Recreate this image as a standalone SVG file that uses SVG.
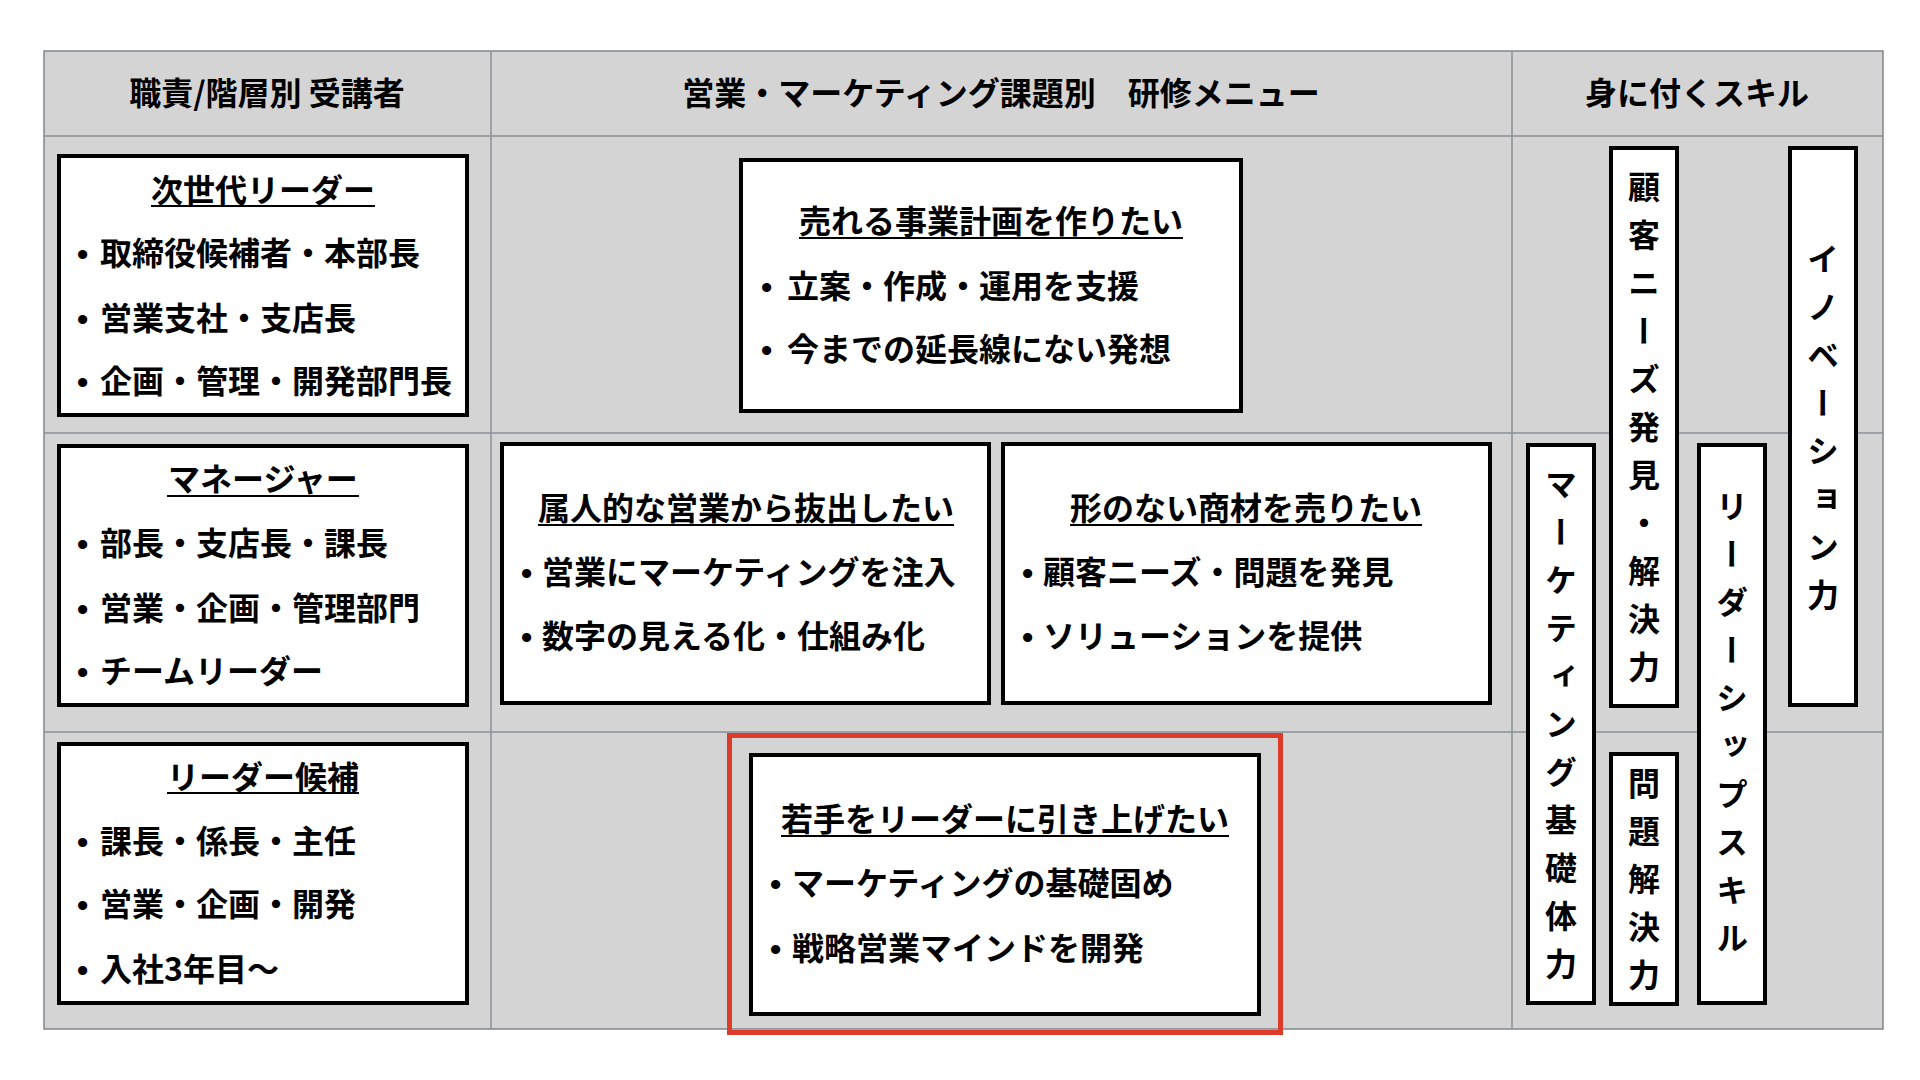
<svg xmlns="http://www.w3.org/2000/svg" width="1920" height="1080" viewBox="0 0 1920 1080">
<style>
.t{font-family:"Noto Sans CJK JP","Noto Sans CJK SC",sans-serif;font-weight:700;font-size:32px;fill:#000}
.c{text-anchor:middle}
.ul{stroke:#000;stroke-width:2}
.b{font-family:"Liberation Sans",sans-serif;font-weight:700}
.box{fill:#fff;stroke:#000;stroke-width:4}
.grid{stroke:#8a9199;stroke-width:1.5;fill:none}
.v{writing-mode:vertical-rl;letter-spacing:16px}
</style>
<rect width="1920" height="1080" fill="#fff"/>
<g id="table">
<rect x="44" y="51" width="1839" height="978" fill="#d4d4d4" stroke="#80868d" stroke-width="1.5"/>
<line class="grid" x1="44" y1="136" x2="1883" y2="136" stroke="#6d7379"/>
<line class="grid" x1="44" y1="433" x2="1883" y2="433"/>
<line class="grid" x1="44" y1="732" x2="1883" y2="732"/>
<line class="grid" x1="491" y1="51" x2="491" y2="1029"/>
<line class="grid" x1="1512" y1="51" x2="1512" y2="1029"/>
<text class="t c" x="267" y="105">職責/階層別 受講者</text>
<text class="t c" x="1001" y="105">営業・マーケティング課題別　研修メニュー</text>
<text class="t c" x="1697" y="105">身に付くスキル</text>
</g>
<g id="connectors"/>
<g id="next-leader">
<rect class="box" x="59" y="156" width="408" height="259"/>
<text class="t c" x="263" y="202">次世代リーダー</text>
<line class="ul" x1="151" y1="206" x2="375" y2="206"/>
<text class="t" y="265"><tspan class="b" x="77">•</tspan><tspan x="100">取締役候補者・本部長</tspan></text>
<text class="t" y="330"><tspan class="b" x="77">•</tspan><tspan x="100">営業支社・支店長</tspan></text>
<text class="t" y="393"><tspan class="b" x="77">•</tspan><tspan x="100">企画・管理・開発部門長</tspan></text>
</g>
<g id="manager">
<rect class="box" x="59" y="446" width="408" height="259"/>
<text class="t c" x="263" y="491">マネージャー</text>
<line class="ul" x1="167" y1="496" x2="359" y2="496"/>
<text class="t" y="555"><tspan class="b" x="77">•</tspan><tspan x="100">部長・支店長・課長</tspan></text>
<text class="t" y="620"><tspan class="b" x="77">•</tspan><tspan x="100">営業・企画・管理部門</tspan></text>
<text class="t" y="683"><tspan class="b" x="77">•</tspan><tspan x="100">チームリーダー</tspan></text>
</g>
<g id="leader-candidate">
<rect class="box" x="59" y="744" width="408" height="259"/>
<text class="t c" x="263" y="789">リーダー候補</text>
<line class="ul" x1="167" y1="793" x2="359" y2="793"/>
<text class="t" y="853"><tspan class="b" x="77">•</tspan><tspan x="100">課長・係長・主任</tspan></text>
<text class="t" y="916"><tspan class="b" x="77">•</tspan><tspan x="100">営業・企画・開発</tspan></text>
<text class="t" y="981"><tspan class="b" x="77">•</tspan><tspan x="100">入社3年目〜</tspan></text>
</g>
<g id="business-plan">
<rect class="box" x="741" y="160" width="500" height="251"/>
<text class="t c" x="991" y="233">売れる事業計画を作りたい</text>
<line class="ul" x1="799" y1="238" x2="1183" y2="238"/>
<text class="t" y="298"><tspan class="b" x="761">•</tspan><tspan x="787">立案・作成・運用を支援</tspan></text>
<text class="t" y="361"><tspan class="b" x="761">•</tspan><tspan x="787">今までの延長線にない発想</tspan></text>
</g>
<g id="escape-personal-sales">
<rect class="box" x="502" y="444" width="487" height="259"/>
<text class="t c" x="746" y="520">属人的な営業から抜出したい</text>
<line class="ul" x1="538" y1="525" x2="954" y2="525"/>
<text class="t" y="584"><tspan class="b" x="521">•</tspan><tspan x="542">営業にマーケティングを注入</tspan></text>
<text class="t" y="648"><tspan class="b" x="521">•</tspan><tspan x="542">数字の見える化・仕組み化</tspan></text>
</g>
<g id="intangible-sales">
<rect class="box" x="1003" y="444" width="487" height="259"/>
<text class="t c" x="1246" y="520">形のない商材を売りたい</text>
<line class="ul" x1="1070" y1="525" x2="1422" y2="525"/>
<text class="t" y="584"><tspan class="b" x="1022">•</tspan><tspan x="1043">顧客ニーズ・問題を発見</tspan></text>
<text class="t" y="648"><tspan class="b" x="1022">•</tspan><tspan x="1043">ソリューションを提供</tspan></text>
</g>
<g id="young-leader">
<rect x="729.5" y="735.5" width="551" height="297" fill="none" stroke="#dc3b2a" stroke-width="5"/>
<rect class="box" x="751" y="755" width="508" height="259"/>
<text class="t c" x="1005" y="831">若手をリーダーに引き上げたい</text>
<line class="ul" x1="781" y1="836" x2="1229" y2="836"/>
<text class="t" y="895"><tspan class="b" x="770">•</tspan><tspan x="792">マーケティングの基礎固め</tspan></text>
<text class="t" y="960"><tspan class="b" x="770">•</tspan><tspan x="792">戦略営業マインドを開発</tspan></text>
</g>
<g id="skill-marketing">
<rect class="box" x="1528" y="445" width="66" height="558"/>
<text class="t v" x="1561" y="468">マーケティング基礎体力</text>
</g>
<g id="skill-needs">
<rect class="box" x="1611" y="148" width="66" height="558"/>
<text class="t v" x="1644" y="171">顧客ニーズ発見・解決力</text>
</g>
<g id="skill-problem">
<rect class="box" x="1611" y="754" width="66" height="250"/>
<text class="t v" x="1644" y="767">問題解決力</text>
</g>
<g id="skill-leadership">
<rect class="box" x="1699" y="445" width="66" height="558"/>
<text class="t v" x="1732" y="490">リーダーシップスキル</text>
</g>
<g id="skill-innovation">
<rect class="box" x="1790" y="148" width="66" height="557"/>
<text class="t v" x="1823" y="243">イノベーション力</text>
</g>
</svg>
